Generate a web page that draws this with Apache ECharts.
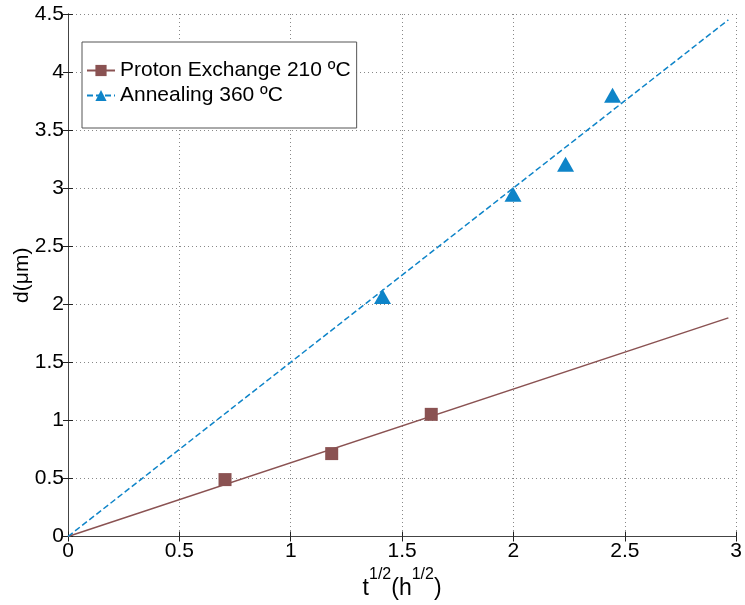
<!DOCTYPE html>
<html>
<head>
<meta charset="utf-8">
<script src="https://cdn.jsdelivr.net/npm/echarts@6/dist/echarts.min.js"></script>
<style>html,body{margin:0;padding:0;background:#fff}#c{width:745px;height:605px}</style>
</head>
<body>
<div id="c"></div>
<script>
var peName = 'Proton Exchange 210 ºC';
var anName = 'Annealing 360 ºC';
var peX = [0.705, 1.184, 1.631];
var peY = [0.49, 0.714, 1.052];
var anX = [1.412, 1.998, 2.234, 2.445];
var anY = [2.066, 2.947, 3.205, 3.80];
var peFitX = [0, 2.965];
var peFitY = [0, 1.883];
var anFitX = [0, 2.965];
var anFitY = [0, 4.45];
var xTicks = [0, 0.5, 1, 1.5, 2, 2.5, 3];
var yTicks = [0, 0.5, 1, 1.5, 2, 2.5, 3, 3.5, 4, 4.5];

function pairs(xs, ys){ return xs.map(function(x,i){return [x, ys[i]];}); }

var brown = '#8A5252';
var blue = '#0E84C8';
var font = 'Liberation Sans, Arial, sans-serif';
var axisLine = {show:true, lineStyle:{color:'#444', width:1}};
var tick = {show:true, inside:true, length:5, lineStyle:{color:'#222'}};

var chart = echarts.init(document.getElementById('c'));
chart.setOption({
  animation:false,
  backgroundColor:'#fff',
  grid:{left:68, right:5, top:14, bottom:68},
  legend:{
    left:82, top:42, orient:'vertical',
    data:[peName, anName],
    itemWidth:28, itemHeight:14, itemGap:4,
    padding:[18,6,22,4],
    borderColor:'#555', borderWidth:1, backgroundColor:'#fff',
    textStyle:{fontFamily:font, fontSize:21, color:'#000'}
  },
  xAxis:[{
    type:'value', min:0, max:3, interval:0.5, position:'bottom',
    axisLine:axisLine, axisTick:tick,
    axisLabel:{fontFamily:font, fontSize:21, color:'#000', margin:4,
      formatter:function(v){ return xTicks.indexOf(v) >= 0 ? String(v) : ''; }},
    splitLine:{show:true, lineStyle:{color:'#888', type:[1,3], width:1}},
    name:'t{sup|1/2}(h{sup|1/2})', nameLocation:'middle', nameGap:30, nameMoveOverlap:false,
    nameTextStyle:{fontFamily:font, fontSize:23, color:'#000',
      rich:{sup:{fontFamily:font, fontSize:16, color:'#000', verticalAlign:'top', padding:[0,0,28,0]}}}
  },{
    type:'value', min:0, max:3, interval:0.5, position:'top',
    axisLine:axisLine, axisTick:tick, axisLabel:{show:false}, splitLine:{show:false}
  }],
  yAxis:[{
    type:'value', min:0, max:4.5, interval:0.5, position:'left',
    axisLine:axisLine, axisTick:tick,
    axisLabel:{fontFamily:font, fontSize:21, color:'#000', margin:4,
      formatter:function(v){ return yTicks.indexOf(v) >= 0 ? String(v) : ''; }},
    splitLine:{show:true, lineStyle:{color:'#888', type:[1,3], width:1}},
    name:'d(μm)', nameLocation:'middle', nameGap:35, nameRotate:90, nameMoveOverlap:false,
    nameTextStyle:{fontFamily:font, fontSize:21, color:'#000'}
  },{
    type:'value', min:0, max:4.5, interval:0.5, position:'right',
    axisLine:axisLine, axisTick:tick, axisLabel:{show:false}, splitLine:{show:false}
  }],
  series:[
    {name:peName, type:'line', data:pairs(peFitX, peFitY), symbol:'rect', showSymbol:false,
     lineStyle:{color:brown, width:1.5}, itemStyle:{color:brown}, z:2},
    {name:anName, type:'line', data:pairs(anFitX, anFitY), symbol:'triangle', showSymbol:false,
     lineStyle:{color:blue, width:1.5, type:[6,3]}, itemStyle:{color:blue}, z:2},
    {name:peName, type:'scatter', data:pairs(peX, peY), symbol:'rect', symbolSize:13,
     itemStyle:{color:brown, opacity:1}, z:3},
    {name:anName, type:'scatter', data:pairs(anX, anY), symbol:'triangle', symbolSize:[17,15],
     itemStyle:{color:blue, opacity:1}, z:3}
  ]
});
</script>
</body>
</html>
